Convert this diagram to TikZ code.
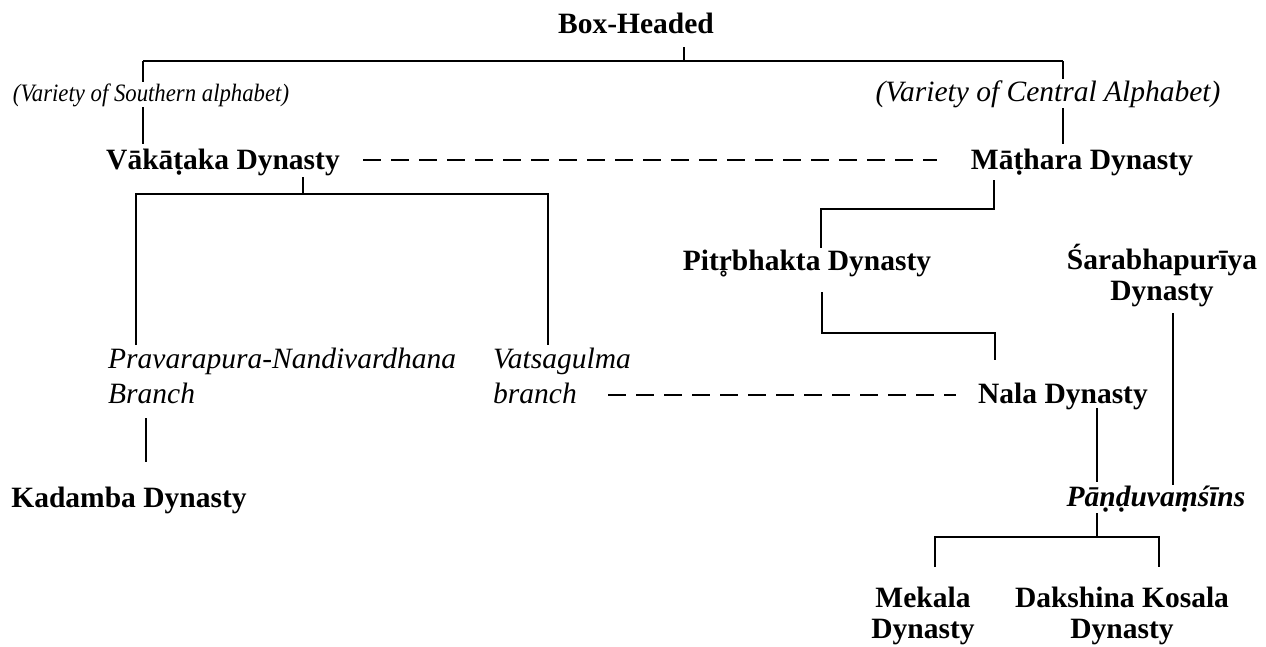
\documentclass[tikz,border=0pt]{standalone}
\usepackage{graphicx}
\usepackage{fontspec}
\setmainfont{Liberation Serif}
\begin{document}
\begin{tikzpicture}[x=1pt,y=-1pt,
  bd/.style={inner sep=0pt, anchor=base, align=center, font=\fontsize{29.5}{31}\selectfont\bfseries},
  bdit/.style={inner sep=0pt, anchor=base, font=\fontsize{29.5}{31}\selectfont\bfseries\itshape},
  itx/.style={inner sep=0pt, anchor=base west, align=left, font=\fontsize{29.5}{35}\selectfont\itshape},
  par/.style={inner sep=1pt, anchor=base, fill=white, font=\fontsize{29.5}{35}\selectfont\itshape},
  conn/.style={line width=1.6pt},
  dsh/.style={line width=1.6pt, dash pattern=on 18pt off 10pt}]
\useasboundingbox (0,0) rectangle (1266,646);
% junction coordinates
\coordinate (jbox) at (684,47);
\coordinate (jtop) at (684,61);
\coordinate (jl) at (143,61);
\coordinate (jr) at (1063,61);
\draw[conn] (jbox) -- (jtop);
\draw[conn] (jl) -- (jr);
\draw[conn] (jl) -- (143,144) coordinate (vakin);
\draw[conn] (jr) -- (1063,144) coordinate (mathin);
% nodes
\node[bd] (box) at (636,33) {Box-Headed};
\node[par, font=\fontsize{25}{28}\selectfont\itshape] (south) at (151,101) {\scalebox{0.91}[1]{(Variety of Southern alphabet)}};
\node[par] (central) at (1048,101) {(\textit{Variety of Central Alphabet)}};
\node[bd] (vak) at (223,169) {Vākāṭaka Dynasty};
\node[bd] (math) at (1082,169) {Māṭhara Dynasty};
\node[bd] (pitr) at (807,270) {Pitr̥bhakta Dynasty};
\node[bd] (sara) at (1162,300) {Śarabhapurīya\\Dynasty};
\node[itx] (prav) at (108,403) {Pravarapura-Nandivardhana\\Branch};
\node[itx] (vats) at (493,403) {Vatsagulma\\branch};
\node[bd] (nala) at (1063,403) {Nala Dynasty};
\node[bd] (kad) at (129,507) {Kadamba Dynasty};
\node[bdit] (pand) at (1156,506) {Pāṇḍuvaṃśīns};
\node[bd] (mek) at (923,638) {Mekala\\Dynasty};
\node[bd] (dak) at (1122,638) {Dakshina Kosala\\Dynasty};
% dashed links
\coordinate (d1a) at (363,160); \coordinate (d1b) at (937,160);
\draw[dsh] (d1a) -- (d1b);
\coordinate (d2a) at (608,395); \coordinate (d2b) at (956,395);
\draw[dsh] (d2a) -- (d2b);
% Vakataka branches
\coordinate (vs) at (303,177); \coordinate (vj) at (303,194);
\coordinate (vl) at (136,194); \coordinate (vr) at (548,194);
\coordinate (pravin) at (136,345); \coordinate (vatsin) at (548,345);
\draw[conn] (vs) -- (vj);
\draw[conn] (pravin) -- (vl) -- (vr) -- (vatsin);
\coordinate (pravout) at (146,418); \coordinate (kadin) at (146,462);
\draw[conn] (pravout) -- (kadin);
% Mathara branches
\coordinate (ms) at (994,180); \coordinate (mj) at (994,209);
\coordinate (pj) at (821,209); \coordinate (pitrin) at (821,248);
\draw[conn] (ms) -- (mj) -- (pj) -- (pitrin);
\coordinate (pitrout) at (822,292); \coordinate (pb) at (822,333);
\coordinate (nb) at (995,333); \coordinate (nalain) at (995,360);
\draw[conn] (pitrout) -- (pb) -- (nb) -- (nalain);
\coordinate (nalaout) at (1097,408); \coordinate (pandin) at (1097,482);
\draw[conn] (nalaout) -- (pandin);
\coordinate (saraout) at (1173,313); \coordinate (pandin2) at (1173,485);
\draw[conn] (saraout) -- (pandin2);
\coordinate (pandout) at (1097,513); \coordinate (pj2) at (1097,537);
\coordinate (mekj) at (935,537); \coordinate (dakj) at (1159,537);
\coordinate (mekin) at (935,567); \coordinate (dakin) at (1159,567);
\draw[conn] (pandout) -- (pj2);
\draw[conn] (mekin) -- (mekj) -- (dakj) -- (dakin);
\end{tikzpicture}
\end{document}
